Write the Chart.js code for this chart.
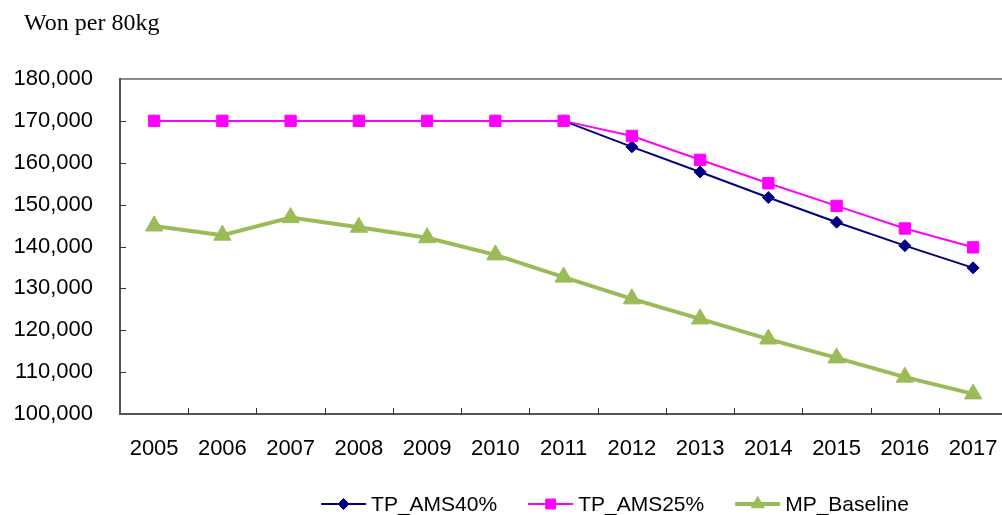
<!DOCTYPE html>
<html>
<head>
<meta charset="utf-8">
<title>Won per 80kg</title>
<script src="https://cdn.jsdelivr.net/npm/chart.js@4/dist/chart.umd.min.js"></script>
<style>
  html, body { margin: 0; padding: 0; background: #fff; overflow: hidden; }
  #wrap { position: relative; width: 1020px; height: 515px; }
</style>
</head>
<body>
<div id="wrap"><canvas id="chart" width="1020" height="515"></canvas></div>
<script>
// Categories
const years = ['2005', '2006', '2007', '2008', '2009', '2010', '2011',
               '2012', '2013', '2014', '2015', '2016', '2017'];

// Series values (won per 80kg)
const tpAms40 = [170000, 170000, 170000, 170000, 170000, 170000, 170000,
                 163800, 157800, 151700, 145800, 140200, 134900];
const tpAms25 = [170000, 170000, 170000, 170000, 170000, 170000, 170000,
                 166400, 160700, 155100, 149700, 144300, 139800];
const mpBaseline = [144900, 142700, 146900, 144600, 142100, 138000, 132700,
                    127500, 122700, 117900, 113400, 108800, 104800];

// Series names
const seriesNames = ['TP_AMS40%', 'TP_AMS25%', 'MP_Baseline'];

// Value axis range
const yMin = 100000;
const yMax = 180000;
const yStep = 10000;

const unitLabel = 'Won per 80kg';

const SANS = "'Liberation Sans', Arial, sans-serif";
const SERIF = "'Liberation Serif', 'Times New Roman', serif";

// Frame, inward tick marks, unit label and a line+marker legend
const decorations = {
  id: 'decorations',
  beforeDatasetsDraw(chart) {
    const { ctx, chartArea: a, scales: { x, y } } = chart;
    ctx.save();
    // top border
    ctx.strokeStyle = '#8c8c8c';
    ctx.lineWidth = 2;
    ctx.beginPath();
    ctx.moveTo(a.left, a.top);
    ctx.lineTo(a.right, a.top);
    ctx.stroke();
    // left and bottom axes
    ctx.strokeStyle = '#555555';
    ctx.lineWidth = 2;
    ctx.beginPath();
    ctx.moveTo(a.left, a.top - 1);
    ctx.lineTo(a.left, a.bottom);
    ctx.lineTo(a.right, a.bottom);
    ctx.stroke();
    // y tick marks, pointing inward
    ctx.lineWidth = 1;
    ctx.strokeStyle = '#333333';
    ctx.beginPath();
    for (let v = yMin + yStep; v < yMax; v += yStep) {
      const py = Math.round(y.getPixelForValue(v)) + 0.5;
      ctx.moveTo(a.left, py);
      ctx.lineTo(a.left + 6, py);
    }
    // x tick marks at category boundaries, pointing inward
    for (let i = 1; i < years.length; i++) {
      const px = Math.round((x.getPixelForValue(i - 1) + x.getPixelForValue(i)) / 2) + 0.5;
      ctx.moveTo(px, a.bottom);
      ctx.lineTo(px, a.bottom - 6);
    }
    ctx.stroke();
    ctx.restore();
  },
  afterDraw(chart) {
    const { ctx } = chart;
    ctx.save();
    // unit label
    ctx.fillStyle = '#000';
    ctx.font = '24px ' + SERIF;
    ctx.textAlign = 'left';
    ctx.textBaseline = 'alphabetic';
    ctx.fillText(unitLabel, 24, 30);

    // legend
    ctx.font = '21px ' + SANS;
    ctx.textBaseline = 'middle';
    const lineLen = 45, gapText = 5, gapItem = 31, ly = 504;
    const items = chart.data.datasets.map(ds => ({ ds, w: ctx.measureText(ds.label).width }));
    const total = items.reduce((s, it) => s + lineLen + gapText + it.w, 0) + gapItem * (items.length - 1);
    let lx = 615 - total / 2;
    items.forEach(({ ds, w }) => {
      ctx.strokeStyle = ds.borderColor;
      ctx.lineWidth = ds.borderWidth;
      ctx.beginPath();
      ctx.moveTo(lx, ly);
      ctx.lineTo(lx + lineLen, ly);
      ctx.stroke();
      ctx.fillStyle = ds.pointBackgroundColor;
      ctx.strokeStyle = ds.pointBorderColor;
      ctx.lineWidth = 1;
      Chart.helpers.drawPoint(ctx, {
        pointStyle: ds.pointStyle,
        radius: ds.legendRadius,
        rotation: 0,
        borderWidth: 1
      }, lx + lineLen / 2, ly);
      ctx.fillStyle = '#000';
      ctx.fillText(ds.label, lx + lineLen + gapText, ly + 1);
      lx += lineLen + gapText + w + gapItem;
    });
    ctx.restore();
  }
};

new Chart(document.getElementById('chart'), {
  type: 'line',
  data: {
    labels: years,
    datasets: [
      {
        label: seriesNames[0],
        data: tpAms40,
        borderColor: '#000080',
        backgroundColor: '#000080',
        pointBackgroundColor: '#000080',
        pointBorderColor: '#000080',
        borderWidth: 2,
        pointStyle: 'rectRot',
        pointRadius: 6,
        pointBorderWidth: 1,
        legendRadius: 5.5,
        order: 3,
        tension: 0
      },
      {
        label: seriesNames[1],
        data: tpAms25,
        borderColor: '#ff00ff',
        backgroundColor: '#ff00ff',
        pointBackgroundColor: '#ff00ff',
        pointBorderColor: '#ff00ff',
        borderWidth: 2,
        pointStyle: 'rect',
        pointRadius: 8,
        pointBorderWidth: 1,
        legendRadius: 7,
        order: 2,
        tension: 0
      },
      {
        label: seriesNames[2],
        data: mpBaseline,
        borderColor: '#9bbb59',
        backgroundColor: '#9bbb59',
        pointBackgroundColor: '#9bbb59',
        pointBorderColor: '#9bbb59',
        borderWidth: 4,
        pointStyle: 'triangle',
        pointRadius: 10,
        pointBorderWidth: 1,
        legendRadius: 7.5,
        order: 1,
        tension: 0
      }
    ]
  },
  options: {
    responsive: false,
    animation: false,
    devicePixelRatio: 1,
    layout: { padding: { left: 0, top: 79, right: 9, bottom: 0 } },
    plugins: {
      legend: { display: false },
      title: { display: false },
      tooltip: { enabled: false }
    },
    scales: {
      x: {
        type: 'category',
        offset: true,
        grid: { display: false, drawTicks: false },
        border: { display: false },
        ticks: {
          color: '#000',
          font: { family: SANS, size: 22 },
          padding: 22,
          maxRotation: 0,
          autoSkip: false
        },
        afterFit(scale) { scale.height = 101; }
      },
      y: {
        min: yMin,
        max: yMax,
        grid: { display: false, drawTicks: false },
        border: { display: false },
        ticks: {
          stepSize: yStep,
          color: '#000',
          font: { family: SANS, size: 22 },
          padding: 27,
          callback: v => v.toLocaleString('en-US')
        },
        afterFit(scale) { scale.width = 120; }
      }
    }
  },
  plugins: [decorations]
});
</script>
</body>
</html>
